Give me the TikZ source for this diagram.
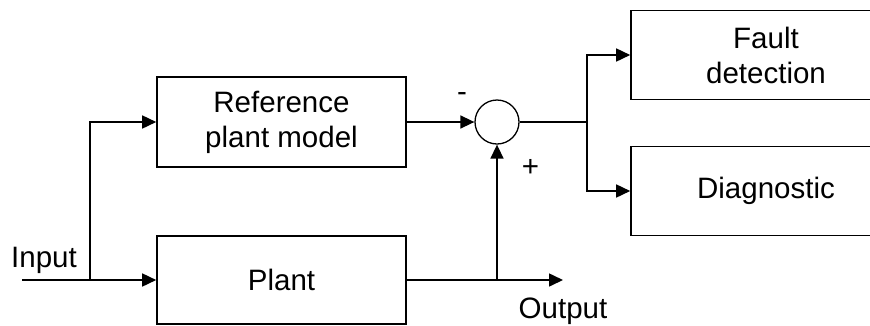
\documentclass[tikz,border=0pt]{standalone}
\usepackage{fontspec}
\setmainfont{Liberation Sans}
\usetikzlibrary{arrows.meta}
\begin{document}
\begin{tikzpicture}[x=1pt,y=-1pt,
 blk/.style={draw, line width=1.6pt, rectangle, inner sep=0pt, align=center, font=\fontsize{29.5}{35}\selectfont},
 lbl/.style={inner sep=0pt, font=\fontsize{29.5}{35}\selectfont},
 conn/.style={line width=1.6pt},
 arr/.style={conn, -{Triangle[length=14pt,width=13pt]}}]
\clip (0,0) rectangle (870,325);
\fill[white] (0,0) rectangle (870,325);
\node[blk, minimum width=249pt, minimum height=90pt] (ref) at (281.5,122) {Reference\\plant model};
\node[blk, minimum width=249pt, minimum height=88pt] (plant) at (281.5,280) {Plant};
\node[draw, circle, line width=1.3pt, minimum size=44pt, inner sep=0pt] (sum) at (497,122) {};
\node[blk, minimum width=270pt, minimum height=89pt] (fd) at (766,55) {Fault\\detection};
\node[blk, minimum width=270pt, minimum height=89pt] (dg) at (766,191) {Diagnostic};
\coordinate (in) at (22,280);
\coordinate (sp) at (90,280);
\coordinate (out) at (563,280);
\coordinate (sp2) at (497,280);
\coordinate (sp3) at (587,122);
\draw[conn] (in) -- (sp);
\draw[arr] (sp) -- (plant.west);
\draw[arr] (sp) |- (ref.west);
\draw[arr] (ref.east) -- (sum.west);
\draw[arr] (plant.east) -- (out);
\draw[arr] (sp2) -- (sum.south);
\draw[conn] (sum.east) -- (sp3);
\draw[arr] (sp3) |- (fd.west);
\draw[arr] (sp3) |- (dg.west);
\node[lbl, anchor=base] (inlbl) at (44,267) {Input};
\node[lbl, anchor=base] (outlbl) at (563,318) {Output};
\node[lbl] (minus) at (462,97) {-};
\node[lbl] (plus) at (530.5,167.5) {+};
\end{tikzpicture}
\end{document}
